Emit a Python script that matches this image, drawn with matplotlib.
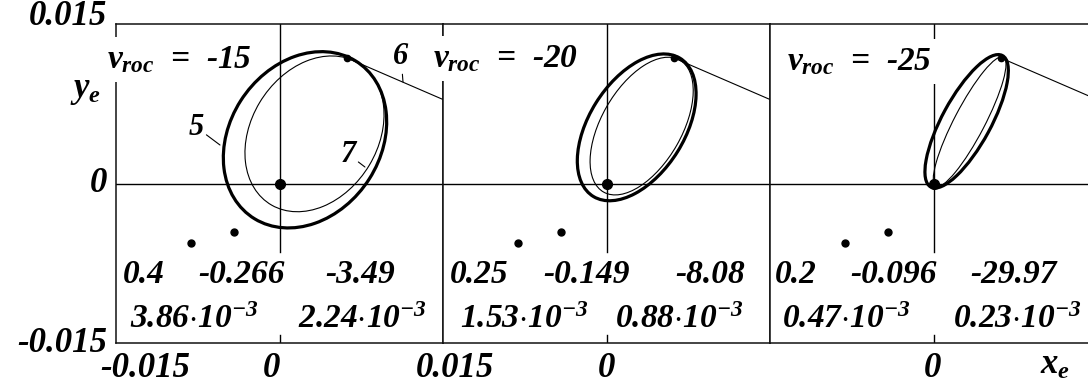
import matplotlib
matplotlib.use("Agg")
import matplotlib.pyplot as plt
from matplotlib.patches import Ellipse
from matplotlib.transforms import blended_transform_factory

plt.rcParams['mathtext.fontset'] = 'custom'
plt.rcParams['mathtext.rm'] = 'Liberation Serif:bold:italic'
plt.rcParams['mathtext.it'] = 'Liberation Serif:bold:italic'
plt.rcParams['mathtext.bf'] = 'Liberation Serif:bold:italic'
plt.rcParams['axes.unicode_minus'] = False

FONT = dict(family='Liberation Serif', weight='bold', style='italic')

LIM = 0.015
v_roc = [-15, -20, -25]

# curve 5 (thick): centre, full axes and tilt of each ellipse
c5_x = [0.00234, 0.00277, 0.00304]
c5_y = [0.00411, 0.00528, 0.00585]
c5_w = [0.0175, 0.01524, 0.01400]
c5_h = [0.0139, 0.00878, 0.00448]
c5_ang = [58.2, 58.8, 62.1]

# curve 7 (thin)
c7_x = [0.00321, 0.003225, 0.003315]
c7_y = [0.00467, 0.0054, 0.005815]
c7_w = [0.01554, 0.01424, 0.01364]
c7_h = [0.01166, 0.00738, 0.0028]
c7_ang = [59.7, 60.9, 63.0]

# fixed points, the same in every panel
top_dot = (0.0062, 0.0118)
line6_x = [0.0062, 0.015]
line6_y = [0.0118, 0.0079]
side_dots_x = [-0.0081, -0.0042]
side_dots_y = [-0.0056, -0.00456]

row1 = [['0.4', '-0.266', '-3.49'],
        ['0.25', '-0.149', '-8.08'],
        ['0.2', '-0.096', '-29.97']]
row2 = [['3.86', '2.24'], ['1.53', '0.88'], ['0.47', '0.23']]

ytick_labels = ['0.015', '0', '-0.015']
xtick_labels = [['-0.015', '0', '0.015'], ['0'], ['0']]

# text placement (data x of left edges)
row1_pos = [[-0.01436, -0.00748, 0.00417],
            [-0.01436, -0.00583, 0.00628],
            [-0.01454, -0.00766, 0.00335]]
row2_pos = [[-0.01371, 0.0017], [-0.01344, 0.00078], [-0.0139, 0.00179]]
vroc_pos = [(-0.01582, 0.01086), (-0.01592, 0.01096), (-0.01344, 0.01067)]
xtick_pos = [[-0.01234, -0.00069, 0.0161], [0.0], [-0.0001]]
ytick_pos = [0.01575, 0.0, -0.01509]

W, H = 1088, 387
fig = plt.figure(figsize=(W / 100, H / 100), dpi=100)
lefts = [116, 443, 770]

for i in range(3):
    ax = fig.add_axes([lefts[i] / W, 44 / H, 327 / W, 319 / H])
    ax.set_xlim(-LIM, LIM)
    ax.set_ylim(-LIM, LIM)
    ax.set_xticks([])
    ax.set_yticks([])
    for sp in ax.spines.values():
        sp.set_linewidth(1.1)
        sp.set_color('#111111')

    ax.axhline(0, color='black', lw=1.0, zorder=1)
    ax.axvline(0, ymin=0.285, ymax=1, color='black', lw=1.0, zorder=1)
    ax.axvline(0, ymin=0, ymax=0.026, color='black', lw=1.0, zorder=1)

    ax.add_patch(Ellipse((c5_x[i], c5_y[i]), c5_w[i], c5_h[i], angle=c5_ang[i],
                         fill=False, ec='black', lw=2.3, zorder=3))
    ax.add_patch(Ellipse((c7_x[i], c7_y[i]), c7_w[i], c7_h[i], angle=c7_ang[i],
                         fill=False, ec='black', lw=0.8, zorder=3))
    ax.plot(line6_x, line6_y, color='black', lw=0.8, zorder=3)
    ax.plot(*top_dot, 'o', color='black', ms=4.5, zorder=4)
    ax.plot(0, 0, 'o', color='black', ms=7, zorder=4)
    ax.plot(side_dots_x, side_dots_y, 'o', color='black', ms=5, ls='none', zorder=4)

    # white box hides the frame and the zero line behind the label, not the curves
    ax.text(vroc_pos[i][0], vroc_pos[i][1], r'$v_{roc}$  =  %d' % v_roc[i],
            fontsize=24, ha='left', va='baseline', zorder=2.8,
            bbox=dict(facecolor='white', edgecolor='none', pad=5), **FONT)

    for x, s in zip(row1_pos[i], row1[i]):
        ax.text(x, -0.00936, s, fontsize=24, ha='left', va='baseline', **FONT)
    for x, s in zip(row2_pos[i], row2[i]):
        ax.text(x, -0.01359, s + r'$\cdot$10$^{-3}$', fontsize=24,
                ha='left', va='baseline', **FONT)

    xtr = blended_transform_factory(ax.transData, ax.transAxes)
    for x, s in zip(xtick_pos[i], xtick_labels[i]):
        ax.text(x, -0.107, s, transform=xtr, fontsize=25, ha='center',
                va='baseline', **FONT)

    if i == 0:
        ytr = blended_transform_factory(ax.transAxes, ax.transData)
        for y, s in zip(ytick_pos, ytick_labels):
            ax.text(-0.0275, y, s, transform=ytr, fontsize=25, ha='right',
                    va='center', **FONT)
        ax.text(-0.092, 0.0081, r'$y_e$', transform=ytr, fontsize=25,
                ha='center', va='baseline', **FONT)
        lead = dict(arrowstyle='-', lw=0.8, color='black', shrinkA=0, shrinkB=0)
        ax.annotate('5', xy=(-0.00546, 0.00362), xytext=(-0.00766, 0.00531),
                    fontsize=22, ha='center', va='center', arrowprops=lead, **FONT)
        ax.annotate('6', xy=(0.01133, 0.00955), xytext=(0.01115, 0.0119),
                    fontsize=22, ha='center', va='center', arrowprops=lead, **FONT)
        ax.annotate('7', xy=(0.00784, 0.00155), xytext=(0.00628, 0.00277),
                    fontsize=22, ha='center', va='center', arrowprops=lead, **FONT)
    if i == 2:
        ax.text(0.01115, -0.098, r'$x_e$', transform=xtr, fontsize=25,
                ha='center', va='baseline', **FONT)

fig.savefig('out.png', dpi=100)
